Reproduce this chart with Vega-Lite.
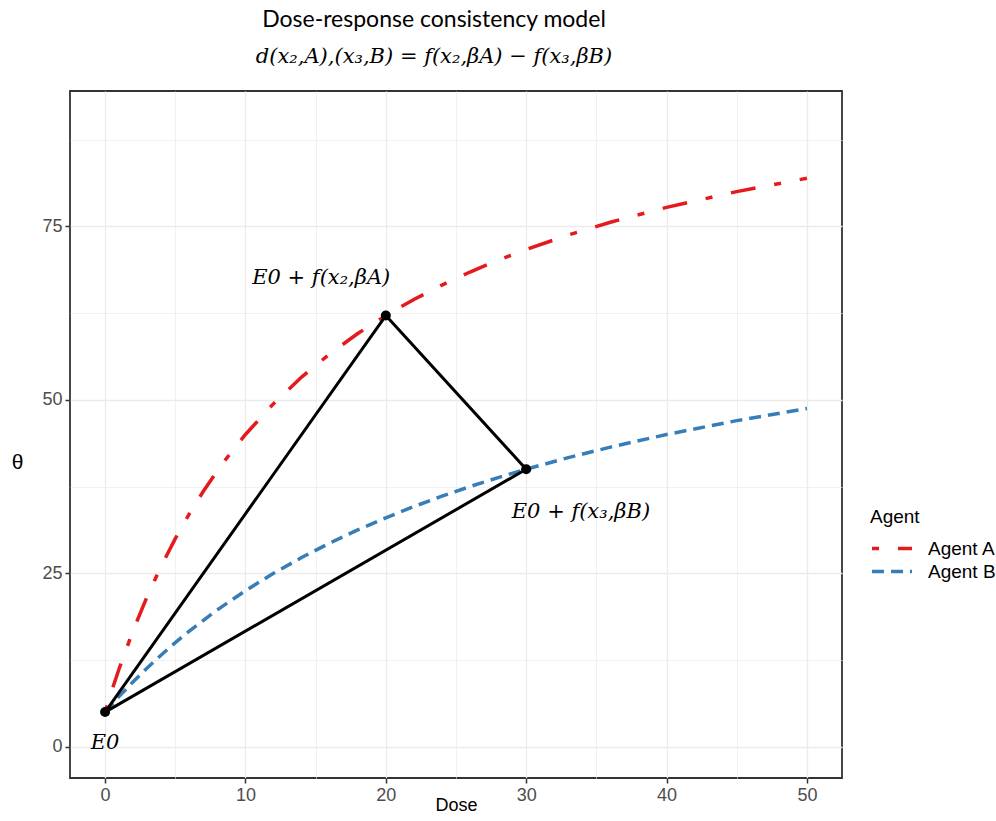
{
  "$schema": "https://vega.github.io/schema/vega-lite/v6.json",
  "autosize": "none",
  "width": 772,
  "height": 687,
  "padding": {"left": 70, "top": 91, "right": 154, "bottom": 43},
  "background": "white",
  "title": {
    "text": "Dose-response consistency model",
    "subtitle": "d(x₂,A),(x₃,B) = f(x₂,βA) − f(x₃,βB)",
    "font": "Lato",
    "fontSize": 23,
    "fontWeight": "normal",
    "color": "black",
    "subtitleFont": "DejaVu Serif",
    "subtitleFontStyle": "italic",
    "subtitleFontSize": 21,
    "subtitleColor": "black",
    "subtitlePadding": 14,
    "anchor": "middle",
    "dx": -22,
    "offset": 24
  },
  "datasets": {
    "curves": [
      {"dose": 0, "theta": 5, "Agent": "Agent A"},
      {"dose": 0.5, "theta": 8.226, "Agent": "Agent A"},
      {"dose": 1, "theta": 11.25, "Agent": "Agent A"},
      {"dose": 2, "theta": 16.765, "Agent": "Agent A"},
      {"dose": 3, "theta": 21.667, "Agent": "Agent A"},
      {"dose": 4, "theta": 26.053, "Agent": "Agent A"},
      {"dose": 5, "theta": 30, "Agent": "Agent A"},
      {"dose": 6, "theta": 33.571, "Agent": "Agent A"},
      {"dose": 7, "theta": 36.818, "Agent": "Agent A"},
      {"dose": 8, "theta": 39.783, "Agent": "Agent A"},
      {"dose": 9, "theta": 42.5, "Agent": "Agent A"},
      {"dose": 10, "theta": 45, "Agent": "Agent A"},
      {"dose": 12, "theta": 49.444, "Agent": "Agent A"},
      {"dose": 14, "theta": 53.276, "Agent": "Agent A"},
      {"dose": 16, "theta": 56.613, "Agent": "Agent A"},
      {"dose": 18, "theta": 59.545, "Agent": "Agent A"},
      {"dose": 20, "theta": 62.143, "Agent": "Agent A"},
      {"dose": 22, "theta": 64.459, "Agent": "Agent A"},
      {"dose": 24, "theta": 66.538, "Agent": "Agent A"},
      {"dose": 26, "theta": 68.415, "Agent": "Agent A"},
      {"dose": 28, "theta": 70.116, "Agent": "Agent A"},
      {"dose": 30, "theta": 71.667, "Agent": "Agent A"},
      {"dose": 33, "theta": 73.75, "Agent": "Agent A"},
      {"dose": 36, "theta": 75.588, "Agent": "Agent A"},
      {"dose": 40, "theta": 77.727, "Agent": "Agent A"},
      {"dose": 45, "theta": 80, "Agent": "Agent A"},
      {"dose": 50, "theta": 81.923, "Agent": "Agent A"},
      {"dose": 0, "theta": 5, "Agent": "Agent B"},
      {"dose": 1, "theta": 7.258, "Agent": "Agent B"},
      {"dose": 2, "theta": 9.375, "Agent": "Agent B"},
      {"dose": 3, "theta": 11.364, "Agent": "Agent B"},
      {"dose": 4, "theta": 13.235, "Agent": "Agent B"},
      {"dose": 5, "theta": 15, "Agent": "Agent B"},
      {"dose": 6, "theta": 16.667, "Agent": "Agent B"},
      {"dose": 8, "theta": 19.737, "Agent": "Agent B"},
      {"dose": 10, "theta": 22.5, "Agent": "Agent B"},
      {"dose": 12, "theta": 25, "Agent": "Agent B"},
      {"dose": 14, "theta": 27.273, "Agent": "Agent B"},
      {"dose": 16, "theta": 29.348, "Agent": "Agent B"},
      {"dose": 18, "theta": 31.25, "Agent": "Agent B"},
      {"dose": 20, "theta": 33, "Agent": "Agent B"},
      {"dose": 22, "theta": 34.615, "Agent": "Agent B"},
      {"dose": 24, "theta": 36.111, "Agent": "Agent B"},
      {"dose": 26, "theta": 37.5, "Agent": "Agent B"},
      {"dose": 28, "theta": 38.793, "Agent": "Agent B"},
      {"dose": 30, "theta": 40, "Agent": "Agent B"},
      {"dose": 33, "theta": 41.667, "Agent": "Agent B"},
      {"dose": 36, "theta": 43.182, "Agent": "Agent B"},
      {"dose": 40, "theta": 45, "Agent": "Agent B"},
      {"dose": 45, "theta": 47, "Agent": "Agent B"},
      {"dose": 50, "theta": 48.75, "Agent": "Agent B"}
    ],
    "triangle": [
      {"dose": 0, "theta": 5, "ord": 1},
      {"dose": 20, "theta": 62.143, "ord": 2},
      {"dose": 30, "theta": 40, "ord": 3},
      {"dose": 0, "theta": 5, "ord": 4}
    ],
    "vertices": [
      {"dose": 0, "theta": 5},
      {"dose": 20, "theta": 62.143},
      {"dose": 30, "theta": 40}
    ],
    "labels": [
      {"dose": 0, "theta": 0.6, "label": "E0"},
      {"dose": 15.4, "theta": 67.5, "label": "E0 + f(x₂,βA)"},
      {"dose": 33.9, "theta": 33.8, "label": "E0 + f(x₃,βB)"}
    ]
  },
  "encoding": {
    "x": {
      "field": "dose", "type": "quantitative",
      "scale": {"domain": [-2.5, 52.5], "nice": false, "zero": false},
      "axis": {
        "title": "Dose",
        "values": [0, 5, 10, 15, 20, 25, 30, 35, 40, 45, 50],
        "labelExpr": "datum.value % 10 === 0 ? datum.label : ''",
        "tickOpacity": {"condition": {"test": "datum.value % 10 === 0", "value": 1}, "value": 0},
        "gridWidth": {"condition": {"test": "datum.value % 10 === 0", "value": 1.3}, "value": 0.7},
        "titleY": 27,
        "titleBaseline": "middle"
      }
    },
    "y": {
      "field": "theta", "type": "quantitative",
      "scale": {"domain": [-4.5, 94.5], "nice": false, "zero": false},
      "axis": {
        "title": "θ",
        "values": [0, 12.5, 25, 37.5, 50, 62.5, 75, 87.5],
        "labelExpr": "datum.value % 25 === 0 ? datum.label : ''",
        "tickOpacity": {"condition": {"test": "datum.value % 25 === 0", "value": 1}, "value": 0},
        "gridWidth": {"condition": {"test": "datum.value % 25 === 0", "value": 1.3}, "value": 0.7},
        "titleAngle": 0,
        "titleX": -53,
        "titleY": 371,
        "titleAlign": "center",
        "titleBaseline": "middle",
        "titleFontSize": 21
      }
    }
  },
  "layer": [
    {
      "data": {"name": "curves"},
      "mark": {"type": "line", "strokeWidth": 3.5, "strokeCap": "butt"},
      "encoding": {
        "color": {
          "field": "Agent", "type": "nominal",
          "scale": {"domain": ["Agent A", "Agent B"], "range": ["#E41A1C", "#377EB8"]},
          "legend": {
            "orient": "none",
            "legendX": 800,
            "legendY": 417,
            "title": "Agent"
          }
        },
        "strokeDash": {
          "field": "Agent", "type": "nominal",
          "scale": {"domain": ["Agent A", "Agent B"], "range": [[7, 19, 25, 19], [12, 7]]},
          "legend": {
            "orient": "none",
            "legendX": 800,
            "legendY": 417,
            "title": "Agent"
          }
        }
      }
    },
    {
      "data": {"name": "triangle"},
      "mark": {"type": "line", "color": "black", "strokeWidth": 3, "strokeJoin": "round"},
      "encoding": {
        "order": {"field": "ord", "type": "quantitative"}
      }
    },
    {
      "data": {"name": "vertices"},
      "mark": {"type": "point", "filled": true, "color": "black", "size": 100, "opacity": 1}
    },
    {
      "data": {"name": "labels"},
      "mark": {"type": "text", "font": "DejaVu Serif", "fontStyle": "italic", "fontSize": 21, "color": "black", "align": "center", "baseline": "middle"},
      "encoding": {
        "text": {"field": "label", "type": "nominal"}
      }
    }
  ],
  "config": {
    "view": {"stroke": "#333333", "strokeWidth": 1.8},
    "axis": {
      "domain": false,
      "grid": true,
      "gridColor": "#EBEBEB",
      "tickColor": "#333333",
      "tickSize": 5,
      "tickWidth": 1.5,
      "labelFont": "Liberation Sans",
      "labelFontSize": 18,
      "labelColor": "#4D4D4D",
      "labelPadding": 3,
      "titleFont": "Liberation Sans",
      "titleFontSize": 18,
      "titleFontWeight": "normal",
      "titleColor": "black"
    },
    "legend": {
      "titleFont": "Liberation Sans",
      "titleFontSize": 19,
      "titleFontWeight": "normal",
      "titleColor": "black",
      "labelFont": "Liberation Sans",
      "labelFontSize": 19,
      "labelColor": "black",
      "symbolSize": 1600,
      "symbolStrokeWidth": 3.5,
      "labelOffset": 14,
      "titlePadding": 10,
      "rowPadding": 0,
      "clipHeight": 23
    }
  }
}
